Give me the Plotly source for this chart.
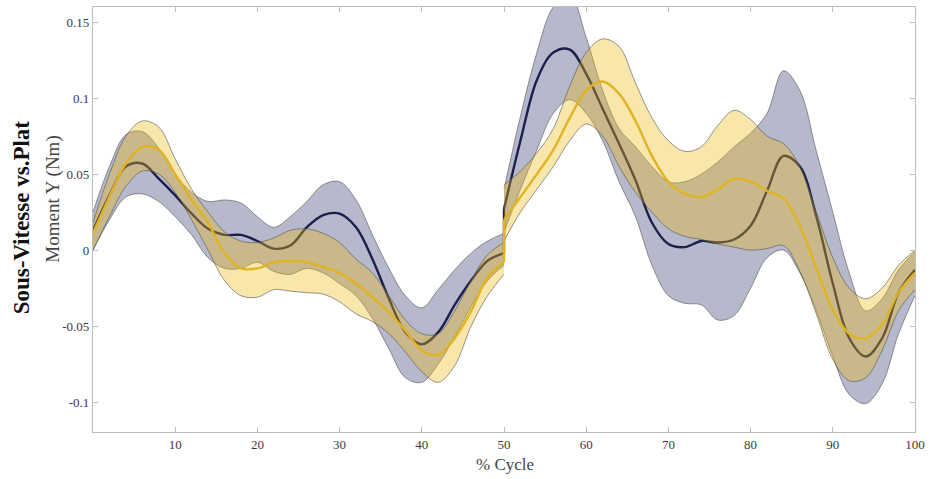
import plotly.graph_objects as go

# % cycle, two halves (the curves jump at 50 %)
x_first = [0, 2, 4, 6, 8, 10, 12, 14, 16, 18, 20, 22, 24, 26, 28, 30, 32, 34, 36, 38, 40, 42, 44, 46, 48, 50]
x_second = [50, 52, 54, 56, 58, 60, 62, 64, 66, 68, 70, 72, 74, 76, 78, 80, 82, 84, 86, 88, 90, 92, 94, 96, 98, 100]

# Navy series (Sous-Vitesse) : mean, upper, lower
navy_mean_1 = [0.013, 0.036, 0.055, 0.057, 0.047, 0.036, 0.024, 0.014, 0.010, 0.010, 0.006, 0.001, 0.003,
               0.015, 0.023, 0.024, 0.015, -0.006, -0.032, -0.054, -0.062, -0.054, -0.036, -0.020, -0.007, -0.002]
navy_up_1 = [0.025, 0.055, 0.076, 0.078, 0.067, 0.050, 0.038, 0.032, 0.033, 0.031, 0.022, 0.015, 0.022,
             0.032, 0.043, 0.045, 0.033, 0.010, -0.012, -0.030, -0.038, -0.026, -0.013, -0.002, 0.006, 0.011]
navy_lo_1 = [0.000, 0.020, 0.035, 0.037, 0.032, 0.022, 0.010, -0.005, -0.012, -0.012, -0.008, -0.014, -0.016,
             -0.012, -0.015, -0.022, -0.030, -0.045, -0.065, -0.084, -0.087, -0.075, -0.057, -0.037, -0.020, -0.010]
navy_mean_2 = [0.027, 0.072, 0.112, 0.130, 0.132, 0.116, 0.093, 0.070, 0.046, 0.018, 0.004, 0.002, 0.006,
               0.005, 0.007, 0.016, 0.039, 0.062, 0.055, 0.022, -0.022, -0.058, -0.070, -0.058, -0.028, -0.013]
navy_up_2 = [0.040, 0.088, 0.130, 0.160, 0.168, 0.140, 0.105, 0.080, 0.068, 0.055, 0.045, 0.045, 0.050,
             0.058, 0.068, 0.077, 0.090, 0.118, 0.105, 0.065, 0.025, -0.015, -0.040, -0.032, -0.013, -0.001]
navy_lo_2 = [0.012, 0.040, 0.066, 0.090, 0.099, 0.090, 0.072, 0.045, 0.022, -0.010, -0.030, -0.035, -0.036,
             -0.046, -0.043, -0.025, -0.005, 0.000, -0.015, -0.040, -0.070, -0.095, -0.101, -0.088, -0.055, -0.030]

# Yellow series (Plat) : mean, upper, lower
yel_mean_1 = [0.011, 0.035, 0.057, 0.068, 0.066, 0.050, 0.033, 0.018, -0.002, -0.012, -0.012, -0.008, -0.007,
              -0.008, -0.011, -0.015, -0.022, -0.031, -0.041, -0.053, -0.066, -0.069, -0.058, -0.040, -0.018, -0.008]
yel_up_1 = [0.018, 0.050, 0.075, 0.085, 0.081, 0.060, 0.040, 0.025, 0.012, 0.006, 0.005, 0.008, 0.013,
            0.014, 0.011, 0.005, -0.006, -0.015, -0.030, -0.046, -0.055, -0.055, -0.040, -0.020, -0.003, 0.005]
yel_lo_1 = [0.000, 0.022, 0.042, 0.052, 0.050, 0.038, 0.020, 0.000, -0.020, -0.030, -0.031, -0.026, -0.027,
            -0.028, -0.029, -0.034, -0.042, -0.047, -0.055, -0.067, -0.080, -0.087, -0.076, -0.050, -0.030, -0.016]
yel_mean_2 = [0.020, 0.035, 0.050, 0.066, 0.087, 0.105, 0.111, 0.103, 0.085, 0.062, 0.045, 0.037, 0.035,
              0.040, 0.047, 0.045, 0.039, 0.034, 0.016, -0.012, -0.039, -0.055, -0.058, -0.049, -0.028, -0.015]
yel_up_2 = [0.043, 0.052, 0.064, 0.080, 0.108, 0.130, 0.139, 0.134, 0.110, 0.087, 0.072, 0.065, 0.068,
            0.082, 0.092, 0.086, 0.075, 0.070, 0.055, 0.025, -0.005, -0.025, -0.032, -0.025, -0.010, 0.000]
yel_lo_2 = [0.006, 0.025, 0.040, 0.055, 0.072, 0.083, 0.075, 0.055, 0.038, 0.025, 0.014, 0.009, 0.007,
            0.004, 0.002, 0.000, 0.001, 0.003, -0.014, -0.042, -0.072, -0.086, -0.084, -0.066, -0.040, -0.026]

x_ticks = [10, 20, 30, 40, 50, 60, 70, 80, 90, 100]
y_ticks = [-0.1, -0.05, 0, 0.05, 0.1, 0.15]
y_tick_text = ["-0.1", "-0.05", "0", "0.05", "0.1", "0.15"]

NAVY_LINE = "#1c1e4c"
NAVY_FILL = "rgba(62,68,120,0.38)"
YEL_LINE = "#e0b325"
YEL_FILL = "rgba(236,186,19,0.36)"
EDGE = "rgba(80,80,80,0.75)"

fig = go.Figure()


def add_band(xs, lo, up, fill):
    fig.add_trace(go.Scatter(x=xs, y=lo, mode="lines",
                             line=dict(color=EDGE, width=0.8, shape="spline", smoothing=1.0),
                             showlegend=False, hoverinfo="skip"))
    fig.add_trace(go.Scatter(x=xs, y=up, mode="lines", fill="tonexty", fillcolor=fill,
                             line=dict(color=EDGE, width=0.8, shape="spline", smoothing=1.0),
                             showlegend=False, hoverinfo="skip"))


def add_mean(m1, m2, color):
    fig.add_trace(go.Scatter(x=x_first, y=m1, mode="lines",
                             line=dict(color=color, width=2.4, shape="spline", smoothing=1.0),
                             showlegend=False))
    fig.add_trace(go.Scatter(x=[x_first[-1], x_second[0]], y=[m1[-1], m2[0]], mode="lines",
                             line=dict(color=color, width=2.4), showlegend=False, hoverinfo="skip"))
    fig.add_trace(go.Scatter(x=x_second, y=m2, mode="lines",
                             line=dict(color=color, width=2.4, shape="spline", smoothing=1.0),
                             showlegend=False))


# navy first, then yellow drawn on top
add_band(x_first, navy_lo_1, navy_up_1, NAVY_FILL)
add_band(x_second, navy_lo_2, navy_up_2, NAVY_FILL)
add_mean(navy_mean_1, navy_mean_2, NAVY_LINE)
add_band(x_first, yel_lo_1, yel_up_1, YEL_FILL)
add_band(x_second, yel_lo_2, yel_up_2, YEL_FILL)
add_mean(yel_mean_1, yel_mean_2, YEL_LINE)

axis_common = dict(showline=True, linecolor="#bdbdbd", linewidth=1.2, mirror="ticks",
                   ticks="inside", ticklen=5, tickcolor="#bdbdbd", tickwidth=1,
                   showgrid=False, zeroline=False,
                   tickfont=dict(family="Liberation Serif", size=13, color="#3a3a3a"))

fig.update_xaxes(range=[0, 100], tickvals=x_ticks, **axis_common)
fig.update_yaxes(range=[-0.1197, 0.16], tickvals=y_ticks, ticktext=y_tick_text, **axis_common)

fig.update_layout(
    width=933, height=479,
    margin=dict(l=93, r=18, t=7, b=47),
    paper_bgcolor="white", plot_bgcolor="white",
    showlegend=False,
    annotations=[
        dict(text="<b>Sous-Vitesse vs.Plat</b>", textangle=-90, xref="paper", yref="paper",
             x=-0.0876, y=0.505, xanchor="center", yanchor="middle", showarrow=False,
             font=dict(family="Liberation Serif", size=23, color="#111111")),
        dict(text="Moment Y (Nm)", textangle=-90, xref="paper", yref="paper",
             x=-0.0487, y=0.549, xanchor="center", yanchor="middle", showarrow=False,
             font=dict(family="Liberation Serif", size=19, color="#444444")),
        dict(text="% Cycle", xref="paper", yref="paper",
             x=0.501, y=-0.0775, xanchor="center", yanchor="middle", showarrow=False,
             font=dict(family="Liberation Serif", size=17, color="#444444")),
    ],
)

fig.write_html("out.html", config={"displayModeBar": False},
               post_script="document.body.style.margin='0';")
